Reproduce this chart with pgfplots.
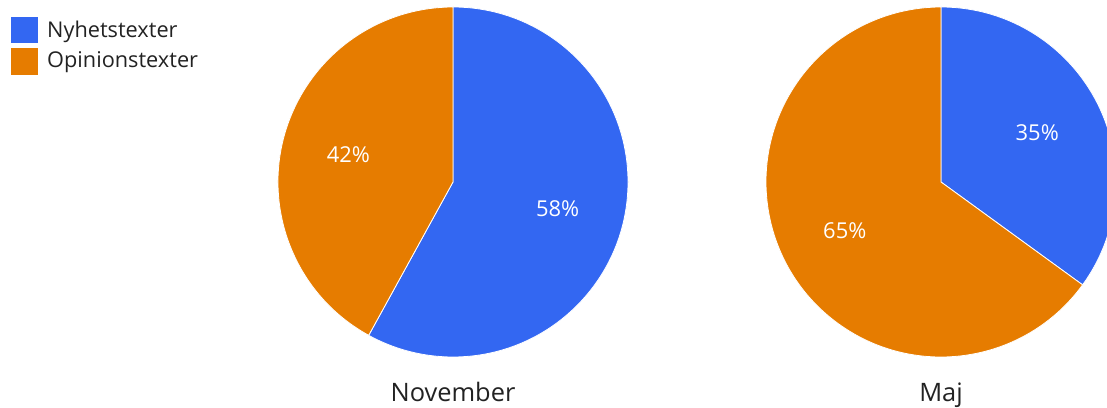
\documentclass[border=0pt]{standalone}
\usepackage{pgfplots}
\usepackage{pgfplotstable}
\pgfplotsset{compat=1.18}
\usepackage{fontspec}
\setmainfont{Open Sans}
\definecolor{nyblue}{RGB}{51,103,242}
\definecolor{oporange}{RGB}{230,124,0}
\definecolor{txt}{RGB}{34,34,34}
\pgfplotstableread{
month cx cy Nyhet Opinion
November 453 226 58 42
Maj 941 226 35 65
}\piedata
\pgfplotstablegetelem{0}{Nyhet}\of\piedata\edef\nA{\pgfplotsretval}%
\pgfplotstablegetelem{0}{Opinion}\of\piedata\edef\nB{\pgfplotsretval}%
\pgfplotstablegetelem{1}{Nyhet}\of\piedata\edef\mA{\pgfplotsretval}%
\pgfplotstablegetelem{1}{Opinion}\of\piedata\edef\mB{\pgfplotsretval}%
\newcommand\pie[5]{%
  \fill[nyblue, draw=white, line width=0.8bp] (axis cs:#1,#2) -- ++(90:175bp)
     arc[start angle=90, delta angle={-3.6*#3}, radius=175bp] -- cycle;
  \fill[oporange, draw=white, line width=0.8bp] (axis cs:#1,#2) -- ++({90-3.6*#3}:175bp)
     arc[start angle={90-3.6*#3}, delta angle={-3.6*#4}, radius=175bp] -- cycle;
  \path (axis cs:#1,#2) ++({90-1.8*#3}:108bp) node[text=white, inner sep=0pt, font=\fontsize{22}{26}\selectfont] {#3\%};
  \path (axis cs:#1,#2) ++({90-3.6*#3-1.8*#4}:108bp) node[text=white, inner sep=0pt, font=\fontsize{22}{26}\selectfont] {#4\%};
  \node[text=txt, anchor=base, inner sep=0pt, font=\fontsize{25.5}{30}\selectfont] at (axis cs:#1,6.5) {#5};
}
\begin{document}%
\begin{tikzpicture}
\path[use as bounding box] (0,0) rectangle (1107bp,408bp);
\clip (0,0) rectangle (1107bp,408bp);
\begin{axis}[at={(0,0)}, anchor=south west, scale only axis,
  width=1107bp, height=408bp, xmin=0, xmax=1107, ymin=0, ymax=408,
  hide axis, clip=false]
\pie{453}{226}{\nA}{\nB}{November}
\pie{941}{226}{\mA}{\mB}{Maj}
% legend
\fill[nyblue] (axis cs:11,365) rectangle (axis cs:38,391);
\fill[oporange] (axis cs:11,333) rectangle (axis cs:38,360);
\node[text=txt, anchor=base west, inner sep=0pt, font=\fontsize{21.8}{26}\selectfont] at (axis cs:47,370.5) {Nyhetstexter};
\node[text=txt, anchor=base west, inner sep=0pt, font=\fontsize{21.8}{26}\selectfont] at (axis cs:47,340.5) {Opinionstexter};
\end{axis}
\end{tikzpicture}%
\end{document}
